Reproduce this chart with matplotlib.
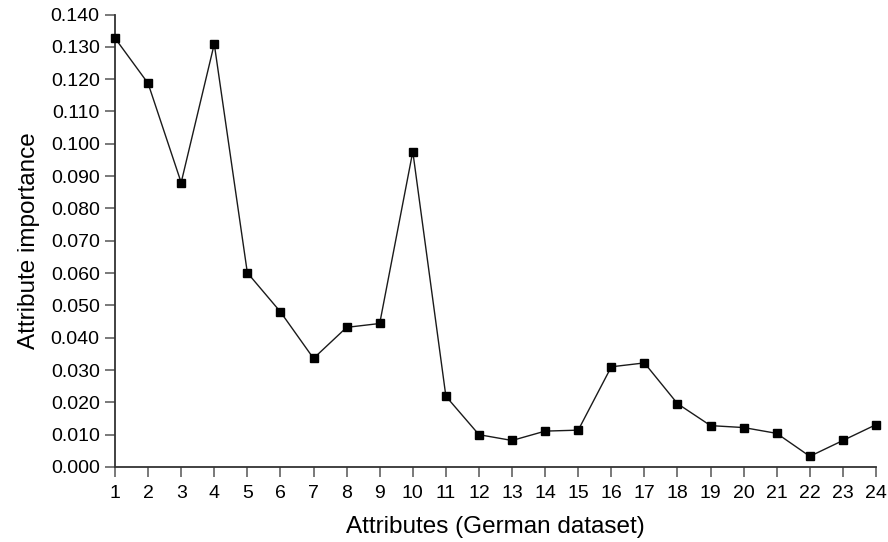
import matplotlib
matplotlib.use('Agg')
import matplotlib.pyplot as plt

plt.rcParams['font.family'] = ['Liberation Sans', 'DejaVu Sans']

attributes = list(range(1, 25))
importance = [0.1327, 0.1187, 0.0880, 0.1309, 0.0601, 0.0480, 0.0336, 0.0432,
              0.0444, 0.0976, 0.0219, 0.0100, 0.0082, 0.0111, 0.0114, 0.0310,
              0.0322, 0.0196, 0.0128, 0.0122, 0.0104, 0.0033, 0.0082, 0.0131]
yticks = [i / 1000 for i in range(0, 141, 10)]

fig = plt.figure(figsize=(8.88, 5.42), dpi=100)
ax = fig.add_axes([0.1295, 0.1384, 0.857, 0.8348])

ax.plot(attributes, importance, color='#1a1a1a', lw=1.0, marker='s',
        markersize=5.5, markerfacecolor='black', markeredgecolor='black',
        clip_on=False, zorder=3)

ax.set_xlim(1, 24)
ax.set_ylim(0, 0.140)
ax.set_xticks(attributes)
ax.set_yticks(yticks)
ax.set_yticklabels(['%.3f' % v for v in yticks])

for s in ['top', 'right']:
    ax.spines[s].set_visible(False)
for s in ['left', 'bottom']:
    ax.spines[s].set_color('#333333')
    ax.spines[s].set_linewidth(1.3)

ax.tick_params(axis='both', direction='out', length=7, width=1.1,
               color='#555555', labelsize=14, labelcolor='black')
ax.tick_params(axis='x', pad=6)
ax.tick_params(axis='y', pad=4)

ax.set_xlabel('Attributes (German dataset)', fontsize=17.5, labelpad=10)
ax.set_ylabel('Attribute importance', fontsize=17.5, labelpad=8)

fig.savefig('out.png', dpi=100)
